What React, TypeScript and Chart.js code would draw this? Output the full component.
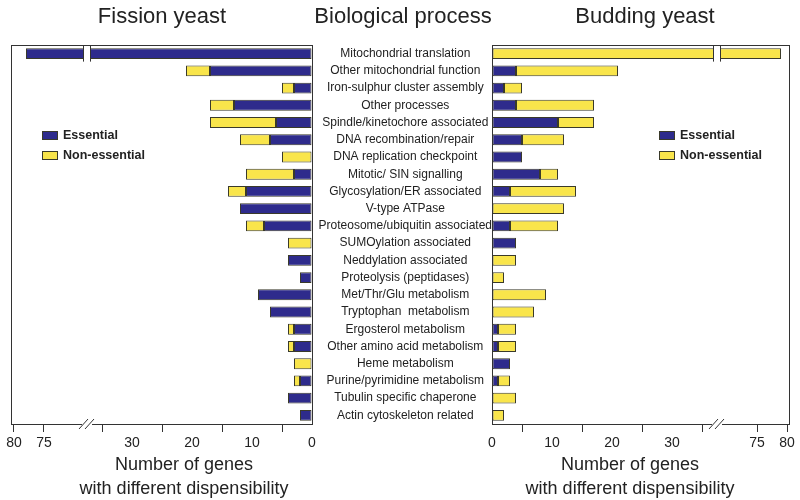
import React, { useEffect, useRef } from "react";
import { Chart, registerables } from "chart.js";

Chart.register(...registerables);

const categories = [
  "Mitochondrial translation",
  "Other mitochondrial function",
  "Iron-sulphur cluster assembly",
  "Other processes",
  "Spindle/kinetochore associated",
  "DNA recombination/repair",
  "DNA replication checkpoint",
  "Mitotic/ SIN signalling",
  "Glycosylation/ER associated",
  "V-type ATPase",
  "Proteosome/ubiquitin associated",
  "SUMOylation associated",
  "Neddylation associated",
  "Proteolysis (peptidases)",
  "Met/Thr/Glu metabolism",
  "Tryptophan  metabolism",
  "Ergosterol metabolism",
  "Other amino acid metabolism",
  "Heme metabolism",
  "Purine/pyrimidine metabolism",
  "Tubulin specific chaperone",
  "Actin cytoskeleton related",
];

const fissionEssential = [78, 17, 3, 13, 6, 7, 0, 3, 11, 12, 8, 0, 4, 2, 9, 7, 3, 3, 0, 2, 4, 2];
const fissionNonEssential = [0, 4, 2, 4, 11, 5, 5, 8, 3, 0, 3, 4, 0, 0, 0, 0, 1, 1, 3, 1, 0, 0];
const buddingEssential = [0, 4, 2, 4, 11, 5, 5, 8, 3, 0, 3, 4, 0, 0, 0, 0, 1, 1, 3, 1, 0, 0];
const buddingNonEssential = [79, 17, 3, 13, 6, 7, 0, 3, 11, 12, 8, 0, 4, 2, 9, 7, 3, 3, 0, 2, 4, 2];

const lowTicks = [0, 5, 10, 15, 20, 25, 30, 35];
const highTicks = [75, 80];
const labeledTicks = [0, 10, 20, 30, 75, 80];

const BLUE = "#2e2b8c";
const YELLOW = "#f9e54b";
const EDGE = "#3a3a2a";
const FONT = "'Liberation Sans', Arial, Helvetica, sans-serif";
const BREAK_AT = 37.5;

type Side = { offset: number; max: number; reverse: boolean };

function makeT(offset: number) {
  return (v: number) => (v > 40 ? v - offset : v);
}
function makeInv(offset: number) {
  return (t: number) => (t > 40 ? Math.round(t + offset) : Math.round(t));
}

const frameAndBreak = {
  id: "frameAndBreak",
  afterDatasetsDraw(chart: any) {
    const { ctx, chartArea } = chart;
    const xs = chart.scales.x;
    const ys = chart.scales.y;
    ctx.save();
    // frame
    ctx.strokeStyle = "#333";
    ctx.lineWidth = 1;
    ctx.strokeRect(
      Math.round(chartArea.left) + 0.5,
      Math.round(chartArea.top) + 0.5,
      Math.round(chartArea.right - chartArea.left),
      Math.round(chartArea.bottom - chartArea.top)
    );
    // bar break on the first row
    const bx = xs.getPixelForValue(BREAK_AT);
    const by = ys.getPixelForValue(0);
    const half = 3.5;
    ctx.fillStyle = "#fff";
    ctx.fillRect(bx - half, by - 7, half * 2, 14);
    ctx.strokeStyle = "#333";
    ctx.beginPath();
    ctx.moveTo(bx - half, by - 8);
    ctx.lineTo(bx - half, by + 8);
    ctx.moveTo(bx + half, by - 8);
    ctx.lineTo(bx + half, by + 8);
    ctx.stroke();
    // axis break marks
    const ay = chartArea.bottom;
    ctx.fillStyle = "#fff";
    ctx.fillRect(bx - 5, ay - 1, 10, 3);
    ctx.strokeStyle = "#333";
    ctx.beginPath();
    ctx.moveTo(bx - 8, ay + 5);
    ctx.lineTo(bx + 1, ay - 5);
    ctx.moveTo(bx - 2, ay + 5);
    ctx.lineTo(bx + 7, ay - 5);
    ctx.stroke();
    ctx.restore();
  },
};

function buildConfig(essential: number[], nonEssential: number[], side: Side, showLabels: boolean, padding: any) {
  const t = makeT(side.offset);
  const inv = makeInv(side.offset);
  const essData = essential.map((e) => (e > 0 ? [0, t(e)] : null));
  const nonData = essential.map((e, i) =>
    nonEssential[i] > 0 ? [t(e), t(e + nonEssential[i])] : null
  );
  const tickVals = [...lowTicks, ...highTicks.map(t)];
  return {
    type: "bar",
    data: {
      labels: categories,
      datasets: [
        {
          label: "Essential",
          data: essData,
          backgroundColor: BLUE,
          borderColor: EDGE,
          borderWidth: 1,
          borderSkipped: false,
          grouped: false,
          barPercentage: 1,
          categoryPercentage: 0.63,
        },
        {
          label: "Non-essential",
          data: nonData,
          backgroundColor: YELLOW,
          borderColor: EDGE,
          borderWidth: 1,
          borderSkipped: false,
          grouped: false,
          barPercentage: 1,
          categoryPercentage: 0.63,
        },
      ],
    },
    options: {
      indexAxis: "y",
      animation: false,
      responsive: false,
      maintainAspectRatio: false,
      layout: { padding },
      plugins: { legend: { display: false }, tooltip: { enabled: false }, title: { display: false } },
      scales: {
        x: {
          type: "linear",
          min: 0,
          max: side.max,
          reverse: side.reverse,
          afterBuildTicks: (s: any) => {
            s.ticks = tickVals.map((v) => ({ value: v }));
          },
          afterFit: (s: any) => {
            s.height = 30;
          },
          border: { display: false },
          grid: {
            display: true,
            drawOnChartArea: false,
            drawTicks: true,
            tickLength: 8,
            tickColor: (c: any) => {
              const v = inv(c.tick ? c.tick.value : 0);
              return v === 0 || v === 10 || v === 20 || v === 30 ? "rgba(0,0,0,0)" : "#333";
            },
          },
          ticks: {
            autoSkip: false,
            maxRotation: 0,
            padding: 3,
            color: "#222",
            font: { family: FONT, size: 14 },
            callback: (val: any) => {
              const v = inv(Number(val));
              return labeledTicks.includes(v) ? String(v) : "";
            },
          },
        },
        y: {
          type: "category",
          display: showLabels,
          offset: true,
          afterFit: (s: any) => {
            if (showLabels) s.width = 180;
          },
          border: { display: false },
          grid: { display: false, drawTicks: false },
          ticks: {
            autoSkip: false,
            crossAlign: "center",
            padding: 0,
            color: "#222",
            font: { family: FONT, size: 12 },
          },
        },
      },
    },
    plugins: [frameAndBreak],
  };
}

function ChartCanvas({ config }: { config: any }) {
  const ref = useRef<HTMLCanvasElement | null>(null);
  useEffect(() => {
    if (!ref.current) return;
    const chart = new Chart(ref.current, config);
    return () => chart.destroy();
  }, [config]);
  return (
    <canvas
      ref={ref}
      width={800}
      height={500}
      style={{ position: "absolute", left: 0, top: 0, width: 800, height: 500 }}
    />
  );
}

const leftConfig = buildConfig(
  fissionEssential,
  fissionNonEssential,
  { offset: 30.33, max: 50.17, reverse: true },
  false,
  { left: 11, right: 488, top: 45, bottom: 46 }
);
const rightConfig = buildConfig(
  buddingEssential,
  buddingNonEssential,
  { offset: 30.83, max: 49.5, reverse: false },
  true,
  { left: 312, right: 11, top: 45, bottom: 46 }
);

function Text({ x, y, size, children, weight }: any) {
  return (
    <div
      style={{
        position: "absolute",
        left: x,
        top: y,
        transform: "translate(-50%, -50%)",
        fontFamily: FONT,
        fontSize: size,
        fontWeight: weight || "normal",
        color: "#222",
        whiteSpace: "nowrap",
        lineHeight: 1,
      }}
    >
      {children}
    </div>
  );
}

function Legend({ x }: { x: number }) {
  const item = (color: string, label: string, top: number) => (
    <div style={{ position: "absolute", left: x, top, display: "flex", alignItems: "center" }}>
      <div
        style={{
          width: 14,
          height: 7,
          background: color,
          border: `1px solid ${EDGE}`,
          marginRight: 5,
        }}
      />
      <span style={{ fontFamily: FONT, fontSize: 12.5, fontWeight: "bold", color: "#222", lineHeight: 1 }}>
        {label}
      </span>
    </div>
  );
  return (
    <>
      {item(BLUE, "Essential", 129)}
      {item(YELLOW, "Non-essential", 149)}
    </>
  );
}

export default function App() {
  return (
    <div style={{ position: "absolute", left: 0, top: 0, width: 800, height: 500, background: "#fff", overflow: "hidden" }}>
      <ChartCanvas config={leftConfig} />
      <ChartCanvas config={rightConfig} />
      <Text x={162} y={16} size={22}>Fission yeast</Text>
      <Text x={403} y={16} size={22}>Biological process</Text>
      <Text x={645} y={16} size={22}>Budding yeast</Text>
      <Text x={184} y={464} size={18}>Number of genes</Text>
      <Text x={184} y={488} size={18}>with different dispensibility</Text>
      <Text x={630} y={464} size={18}>Number of genes</Text>
      <Text x={630} y={488} size={18}>with different dispensibility</Text>
      <Legend x={42} />
      <Legend x={659} />
    </div>
  );
}
